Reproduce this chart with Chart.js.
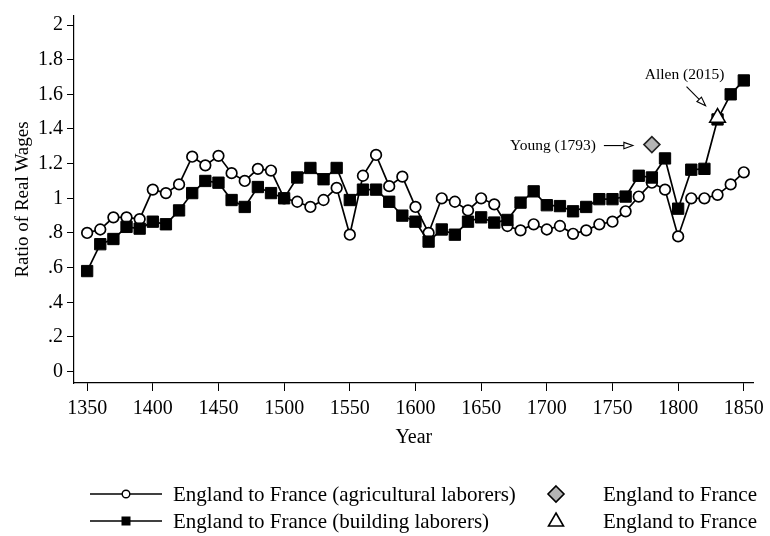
<!DOCTYPE html>
<html>
<head>
<meta charset="utf-8">
<script src="https://cdn.jsdelivr.net/npm/chart.js@4.4.1/dist/chart.umd.min.js"></script>
<style>
  html, body { margin: 0; padding: 0; background: #fff; }
  canvas { display: block; }
</style>
</head>
<body>
<canvas id="wageChart" width="770" height="536"></canvas>
<script>
// Ratio of real wages, England to France, by decade
const years = [1350, 1360, 1370, 1380, 1390, 1400, 1410, 1420, 1430, 1440,
               1450, 1460, 1470, 1480, 1490, 1500, 1510, 1520, 1530, 1540,
               1550, 1560, 1570, 1580, 1590, 1600, 1610, 1620, 1630, 1640,
               1650, 1660, 1670, 1680, 1690, 1700, 1710, 1720, 1730, 1740,
               1750, 1760, 1770, 1780, 1790, 1800, 1810, 1820, 1830, 1840, 1850];

const agricultural = [0.80, 0.82, 0.89, 0.89, 0.88, 1.05, 1.03, 1.08, 1.24, 1.19,
                      1.245, 1.145, 1.10, 1.17, 1.16, 1.00, 0.98, 0.95, 0.99, 1.06,
                      0.79, 1.13, 1.25, 1.07, 1.125, 0.95, 0.80, 1.00, 0.98, 0.93,
                      1.00, 0.965, 0.84, 0.815, 0.85, 0.82, 0.84, 0.795, 0.815, 0.85,
                      0.865, 0.925, 1.01, 1.09, 1.05, 0.78, 1.00, 1.00, 1.02, 1.08, 1.15];

const building = [0.58, 0.735, 0.765, 0.835, 0.825, 0.865, 0.85, 0.93, 1.03, 1.10,
                  1.09, 0.99, 0.95, 1.065, 1.03, 1.00, 1.12, 1.175, 1.11, 1.175,
                  0.99, 1.05, 1.05, 0.98, 0.90, 0.865, 0.75, 0.82, 0.79, 0.865,
                  0.89, 0.86, 0.875, 0.975, 1.04, 0.96, 0.955, 0.925, 0.95, 0.995,
                  0.995, 1.01, 1.13, 1.12, 1.23, 0.94, 1.165, 1.17, 1.455, 1.60, 1.68];

// single estimates from other sources
const youngYear = [1780];
const youngRatio = [1.31];
const allenYear = [1830];
const allenRatio = [1.465];

const xTicks = [1350, 1400, 1450, 1500, 1550, 1600, 1650, 1700, 1750, 1800, 1850];
const yTicks = [0, 0.2, 0.4, 0.6, 0.8, 1, 1.2, 1.4, 1.6, 1.8, 2];

const legendLabels = [
    'England to France (agricultural laborers)',
    'England to France (building laborers)',
    'England to France',
    'England to France'
];

const FONT = '"Liberation Serif", "Times New Roman", serif';

const toPoints = (xs, ys) => xs.map((x, i) => ({ x: x, y: ys[i] }));

function drawArrow(ctx, x1, y1, x2, y2) {
    const ang = Math.atan2(y2 - y1, x2 - x1);
    const len = 9, half = 3.2;
    const bx = x2 - Math.cos(ang) * len;
    const by = y2 - Math.sin(ang) * len;
    ctx.beginPath();
    ctx.moveTo(x1, y1);
    ctx.lineTo(bx, by);
    ctx.stroke();
    ctx.beginPath();
    ctx.moveTo(x2, y2);
    ctx.lineTo(bx - Math.sin(ang) * half, by + Math.cos(ang) * half);
    ctx.lineTo(bx + Math.sin(ang) * half, by - Math.cos(ang) * half);
    ctx.closePath();
    ctx.fillStyle = '#fff';
    ctx.fill();
    ctx.stroke();
}

// text labels + arrows pointing at the two single estimates
const notesPlugin = {
    id: 'notes',
    afterDatasetsDraw(chart) {
        const ctx = chart.ctx;
        const young = chart.getDatasetMeta(2).data[0];
        const allen = chart.getDatasetMeta(3).data[0];
        ctx.save();
        ctx.strokeStyle = '#000';
        ctx.lineWidth = 1.1;
        ctx.fillStyle = '#000';
        ctx.font = '15.5px ' + FONT;

        ctx.textAlign = 'right';
        ctx.textBaseline = 'middle';
        ctx.fillText('Young (1793)', young.x - 56, young.y + 1);
        drawArrow(ctx, young.x - 48, young.y + 1, young.x - 19, young.y + 1);

        ctx.fillStyle = '#000';
        ctx.textAlign = 'center';
        ctx.fillText('Allen (2015)', allen.x - 33, allen.y - 43);
        drawArrow(ctx, allen.x - 31, allen.y - 31, allen.x - 12, allen.y - 12);
        ctx.restore();
    }
};

// legend under the x axis, two columns
const legendPlugin = {
    id: 'stataLegend',
    afterDraw(chart) {
        const ctx = chart.ctx;
        const rows = [494, 521];
        ctx.save();
        ctx.strokeStyle = '#000';
        ctx.fillStyle = '#000';
        ctx.lineWidth = 1.6;

        rows.forEach(y => {
            ctx.beginPath();
            ctx.moveTo(90, y);
            ctx.lineTo(162, y);
            ctx.stroke();
        });
        // circle key
        ctx.beginPath();
        ctx.arc(126, rows[0], 3.8, 0, Math.PI * 2);
        ctx.fillStyle = '#fff';
        ctx.fill();
        ctx.lineWidth = 1.4;
        ctx.stroke();
        // square key
        ctx.fillStyle = '#000';
        ctx.fillRect(121.5, rows[1] - 4.5, 9, 9);

        // diamond key
        ctx.beginPath();
        ctx.moveTo(556, rows[0] - 8);
        ctx.lineTo(564, rows[0]);
        ctx.lineTo(556, rows[0] + 8);
        ctx.lineTo(548, rows[0]);
        ctx.closePath();
        ctx.fillStyle = '#b4b4b4';
        ctx.fill();
        ctx.lineWidth = 1.6;
        ctx.stroke();
        // triangle key
        ctx.beginPath();
        ctx.moveTo(556, rows[1] - 8);
        ctx.lineTo(563.5, rows[1] + 5);
        ctx.lineTo(548.5, rows[1] + 5);
        ctx.closePath();
        ctx.fillStyle = '#fff';
        ctx.fill();
        ctx.stroke();

        ctx.fillStyle = '#000';
        ctx.font = '21px ' + FONT;
        ctx.textAlign = 'left';
        ctx.textBaseline = 'middle';
        ctx.fillText(legendLabels[0], 173, rows[0] + 1);
        ctx.fillText(legendLabels[1], 173, rows[1] + 1);
        ctx.fillText(legendLabels[2], 603, rows[0] + 1);
        ctx.fillText(legendLabels[3], 603, rows[1] + 1);
        ctx.restore();
    }
};

Chart.defaults.font.family = FONT;
Chart.defaults.color = '#000';

new Chart(document.getElementById('wageChart'), {
    type: 'line',
    data: {
        datasets: [
            {
                label: legendLabels[0],
                data: toPoints(years, agricultural),
                borderColor: '#000',
                borderWidth: 1.7,
                pointStyle: 'circle',
                pointRadius: 5.3,
                pointBorderWidth: 1.7,
                pointBackgroundColor: '#fff',
                pointBorderColor: '#000',
                tension: 0,
                order: 4
            },
            {
                label: legendLabels[1],
                data: toPoints(years, building),
                borderColor: '#000',
                borderWidth: 1.7,
                pointStyle: 'rect',
                pointRadius: 8,
                pointBorderWidth: 1,
                pointBackgroundColor: '#000',
                pointBorderColor: '#000',
                tension: 0,
                order: 3
            },
            {
                label: legendLabels[2],
                data: toPoints(youngYear, youngRatio),
                showLine: false,
                pointStyle: 'rectRot',
                pointRadius: 8,
                pointBorderWidth: 1.6,
                pointBackgroundColor: '#b4b4b4',
                pointBorderColor: '#222',
                order: 2
            },
            {
                label: legendLabels[3],
                data: toPoints(allenYear, allenRatio),
                showLine: false,
                pointStyle: 'triangle',
                pointRadius: 9,
                pointBorderWidth: 1.6,
                pointBackgroundColor: '#fff',
                pointBorderColor: '#000',
                order: 1
            }
        ]
    },
    options: {
        responsive: false,
        animation: false,
        layout: { padding: { top: 12, right: 13, bottom: 83, left: 0 } },
        plugins: {
            legend: { display: false },
            tooltip: { enabled: false }
        },
        scales: {
            x: {
                type: 'linear',
                min: 1340,
                max: 1857.5,
                afterBuildTicks: scale => { scale.ticks = xTicks.map(v => ({ value: v })); },
                afterFit: scale => { scale.height = 70; },
                grid: { drawOnChartArea: false, drawTicks: true, tickLength: 8, color: '#000' },
                border: { display: true, color: '#000', width: 1.2 },
                ticks: {
                    font: { size: 20 },
                    padding: 6,
                    maxRotation: 0,
                    autoSkip: false,
                    callback: v => String(v)
                },
                title: { display: true, text: 'Year', font: { size: 20 }, padding: { top: 0, bottom: 3 } }
            },
            y: {
                min: -0.066,
                max: 2.052,
                afterBuildTicks: scale => { scale.ticks = yTicks.map(v => ({ value: v })); },
                afterFit: scale => { scale.width = 74; },
                grid: { drawOnChartArea: false, drawTicks: true, tickLength: 7, color: '#000' },
                border: { display: true, color: '#000', width: 1.2 },
                ticks: {
                    font: { size: 20 },
                    padding: 4,
                    autoSkip: false,
                    callback: v => {
                        const r = Math.round(v * 10) / 10;
                        return String(r).replace(/^0\./, '.');
                    }
                },
                title: { display: true, text: 'Ratio of Real Wages', font: { size: 19 }, padding: { top: 12, bottom: 0 } }
            }
        }
    },
    plugins: [notesPlugin, legendPlugin]
});
</script>
</body>
</html>
